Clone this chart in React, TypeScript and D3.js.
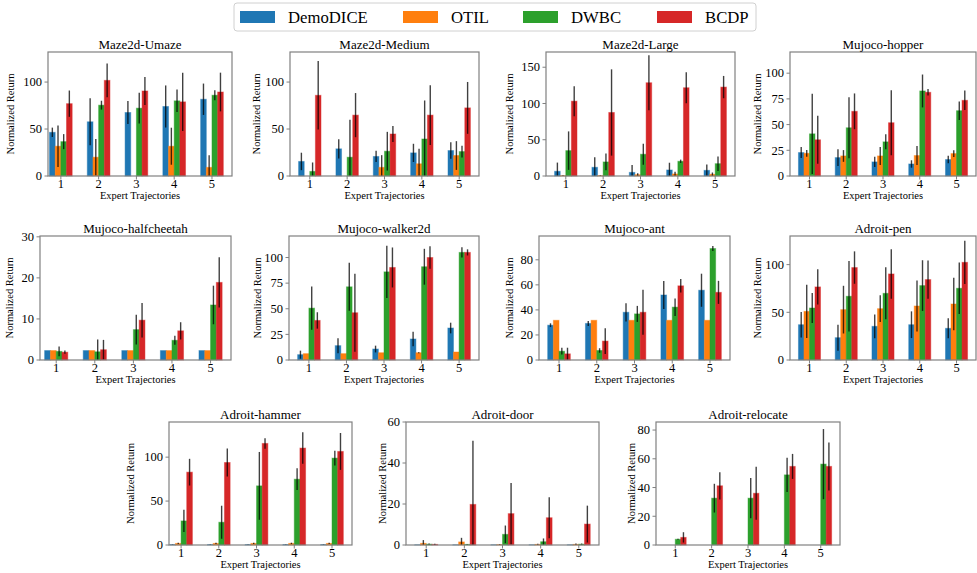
import * as d3 from "d3";

const methods = ["DemoDICE", "OTIL", "DWBC", "BCDP"];
const colors = ["#1f77b4", "#ff7f0e", "#2ca02c", "#d62728"];
const trajectories = [1, 2, 3, 4, 5];

// rows: DemoDICE, OTIL, DWBC, BCDP ; columns: 1..5 expert trajectories
const umazeMean = [[46.5, 57.7, 67.6, 74, 81.7], [31.7, 20, 0, 31.7, 9.2], [36.6, 75.4, 72.2, 80, 86], [77, 101.8, 90.5, 78.9, 89.4]];
const umazeStd = [[5, 25, 12.3, 22.4, 16.7], [22, 19.5, 0, 19.7, 13], [8, 4.7, 16.4, 12, 5.3], [14, 18, 14.8, 31, 20.6]];

const mediumMean = [[15.5, 28.9, 20.8, 24.6, 27.1], [0, 0, 9.2, 13, 21.8], [4.9, 20, 26.4, 39.4, 26], [85.9, 64.8, 44.7, 64.8, 72.5]];
const mediumStd = [[9.3, 10.2, 6, 9.7, 8.8], [0, 0, 13, 16, 15.3], [9.5, 40, 20.6, 41, 6.2], [36.5, 23.5, 8.5, 31.7, 27.6]];

const largeMean = [[6.5, 12, 5, 8.3, 7.8], [0.5, 0.5, 1.8, 2.8, 2.3], [35, 19.4, 30, 20.3, 17], [103.2, 87.6, 128.6, 121.7, 122.6]];
const largeStd = [[12, 14, 10, 10, 8], [0.5, 0.5, 2, 3, 2.5], [26.5, 11.5, 14.5, 2.3, 10], [20.7, 59.5, 37.8, 21.4, 15.4]];

const hopperMean = [[22.8, 17.9, 13.7, 11.7, 16], [22.1, 19.5, 19.5, 19.9, 21.8], [41, 46.9, 33.2, 82.7, 63.5], [35.2, 62.9, 51.8, 81.4, 73.6]];
const hopperStd = [[5.4, 8.1, 5, 3.6, 3.7], [3.3, 5.7, 8.8, 9.3, 3.3], [39, 29.6, 7.3, 16, 9], [23.3, 17.4, 31.7, 3.1, 9.5]];

const cheetahMean = [[2.3, 2.3, 2.3, 2.3, 2.3], [2.3, 2.3, 2.3, 2.3, 2.3], [2.1, 2.0, 7.4, 4.8, 13.4], [1.9, 2.5, 9.7, 7.1, 18.9]];
const cheetahStd = [[0, 0, 0, 0, 0], [0, 0, 0, 0, 0], [1.2, 3, 3.6, 1.1, 4.7], [0.4, 2.4, 4.2, 2.1, 6.1]];

const walkerMean = [[5.2, 14, 10.7, 20.5, 31.2], [6.2, 6.2, 7.1, 7.1, 7.8], [50.6, 71.4, 86, 91, 105], [38.6, 46.1, 90.3, 100, 105]];
const walkerStd = [[3.9, 7.3, 3.3, 7, 5.2], [0, 0, 0, 0.5, 0], [21, 23.4, 25.6, 17.5, 5], [8, 38, 19.5, 11, 3]];

const antMean = [[27.8, 29.2, 38.1, 51.9, 55.7], [31.7, 31.7, 31.7, 31.7, 31.7], [7, 7.6, 36.8, 42.2, 89], [4.9, 15.1, 38.1, 59.2, 54]];
const antStd = [[1.5, 2, 7.3, 11.2, 13.2], [0, 0, 0, 0, 0], [2.7, 1.8, 6.4, 7, 2], [4.9, 10.3, 18, 5.4, 9.2]];

const penMean = [[37, 23.4, 35.3, 37, 33.2], [51, 52.8, 53.8, 56.6, 58.7], [54.5, 66.8, 69.9, 78, 75.2], [76.6, 96.9, 90.2, 84.3, 102.4]];
const penStd = [[13.3, 13.6, 12.4, 14, 10.5], [28, 25, 14, 26.8, 27.6], [15.7, 37, 27.3, 26.6, 27], [18.5, 17, 26, 20, 22.7]];

const hammerMean = [[0.5, 0.5, 0.5, 0.5, 0.5], [1.8, 1.8, 1.8, 1.8, 1.8], [27.4, 25.9, 67.3, 74.9, 98.9], [82.9, 93.9, 115.6, 110.3, 106.5]];
const hammerStd = [[0.3, 0.3, 0.3, 0.3, 0.3], [0.8, 0.8, 0.8, 0.8, 0.8], [12.7, 18.8, 38.6, 12.4, 8.4], [15.2, 16, 6, 17.9, 21]];

const doorMean = [[0.1, 0.1, 0.1, 0.1, 0.1], [0.8, 1.5, 0.2, 0.3, 0.3], [0.4, 0.3, 5.2, 1.6, 0.4], [0.3, 19.8, 15.3, 13.3, 10.2]];
const doorStd = [[0, 0, 0, 0, 0], [1.6, 2, 0.2, 0.3, 0.4], [0.3, 0.2, 4.3, 1.6, 0.3], [0.3, 31, 15, 10, 9]];

const relocateMean = [[0, 0, 0, 0, 0], [0, 0, 0, 0, 0], [4, 32.6, 32.6, 48.8, 56.3], [5.3, 41.2, 36, 54.7, 54.7]];
const relocateStd = [[0, 0, 0, 0, 0], [0, 0, 0, 0, 0], [0.4, 10, 14, 12, 24.4], [3.6, 9.5, 18.4, 8.7, 16.7]];

const titles = ["Maze2d-Umaze", "Maze2d-Medium", "Maze2d-Large", "Mujoco-hopper", "Mujoco-halfcheetah", "Mujoco-walker2d", "Mujoco-ant", "Adroit-pen", "Adroit-hammer", "Adroit-door", "Adroit-relocate"];
const means = [umazeMean, mediumMean, largeMean, hopperMean, cheetahMean, walkerMean, antMean, penMean, hammerMean, doorMean, relocateMean];
const stds = [umazeStd, mediumStd, largeStd, hopperStd, cheetahStd, walkerStd, antStd, penStd, hammerStd, doorStd, relocateStd];
const yMax = [132, 132, 171, 120.6, 30.2, 121, 99, 130, 140, 60, 85.6];
const yStep = [50, 50, 50, 25, 10, 25, 20, 50, 50, 20, 20];

// layout of each axes frame (pixels) and its x limits
const rows = [[52, 176], [236, 360], [422, 545]];
const frames = [
  { row: 0, left: 48, right: 232, x0: 0.66, lab: 34 },
  { row: 0, left: 290, right: 479, x0: 0.47, lab: 30 },
  { row: 0, left: 546, right: 735, x0: 0.47, lab: 33 },
  { row: 0, left: 790, right: 976, x0: 0.47, lab: 29 },
  { row: 1, left: 40, right: 231, x0: 0.58, lab: 27 },
  { row: 1, left: 289, right: 479, x0: 0.47, lab: 28 },
  { row: 1, left: 539, right: 730, x0: 0.47, lab: 26 },
  { row: 1, left: 790, right: 976, x0: 0.47, lab: 29 },
  { row: 2, left: 169, right: 352, x0: 0.68, lab: 35 },
  { row: 2, left: 406, right: 599, x0: 0.47, lab: 20 },
  { row: 2, left: 656, right: 840, x0: 0.47, lab: 21 },
];
const legendX = [240, 403, 523, 657];

const FONT = "Liberation Serif, Times New Roman, DejaVu Serif, serif";
const BW = 0.15;

function Txt(props: any) {
  return <text fontFamily={FONT} fill="#000" {...props} />;
}

function Panel({ i }: { i: number }) {
  const f = frames[i];
  const [top, bottom] = rows[f.row];
  const x = d3.scaleLinear().domain([f.x0, 5.53]).range([f.left, f.right]);
  const y = d3.scaleLinear().domain([0, yMax[i]]).range([bottom, top]);
  const bw = x(BW) - x(0);
  const yTicks = d3.range(0, yMax[i] + 1e-6, yStep[i]);
  const clamp = (v: number) => Math.max(0, Math.min(yMax[i], v));
  const cx = (f.left + f.right) / 2;

  return (
    <g>
      {means[i].map((series, m) =>
        series.map((v, k) => {
          const xc = x(trajectories[k] + (m - 1.5) * BW);
          return (
            <rect key={`b${m}-${k}`} x={xc - bw / 2} y={y(v)} width={bw} height={Math.max(0, y(0) - y(v))}
              fill={colors[m]} stroke={colors[m]} strokeOpacity={0.45} strokeWidth={1} />
          );
        })
      )}
      {means[i].map((series, m) =>
        series.map((v, k) => {
          const s = stds[i][m][k];
          if (!s) return null;
          const xc = x(trajectories[k] + (m - 1.5) * BW);
          return (
            <line key={`e${m}-${k}`} x1={xc} x2={xc} y1={y(clamp(v - s))} y2={y(clamp(v + s))}
              stroke="#000" strokeOpacity={0.75} strokeWidth={1.4} />
          );
        })
      )}
      <rect x={f.left} y={top} width={f.right - f.left} height={bottom - top} fill="none" stroke="#808080" strokeWidth={1.2} />
      {yTicks.map((t) => (
        <g key={`y${t}`}>
          <line x1={f.left - 3.5} x2={f.left} y1={y(t)} y2={y(t)} stroke="#808080" />
          <Txt x={f.left - 6} y={y(t)} dy="0.34em" textAnchor="end" fontSize={12.5}>{t}</Txt>
        </g>
      ))}
      {trajectories.map((t) => (
        <g key={`x${t}`}>
          <line x1={x(t)} x2={x(t)} y1={bottom} y2={bottom + 3.5} stroke="#808080" />
          <Txt x={x(t)} y={bottom + 12} textAnchor="middle" fontSize={12.5}>{t}</Txt>
        </g>
      ))}
      <Txt x={cx} y={top - 3} textAnchor="middle" fontSize={13}>{titles[i]}</Txt>
      <Txt x={cx} y={bottom + 23} textAnchor="middle" fontSize={10.5}>Expert Trajectories</Txt>
      <Txt transform={`translate(${f.left - f.lab},${(top + bottom) / 2}) rotate(-90)`} textAnchor="middle" fontSize={10.5}>Normalized Return</Txt>
    </g>
  );
}

export default function App() {
  return (
    <svg width={977} height={573} style={{ position: "absolute", left: 0, top: 0, background: "#fff" }}>
      <rect x={234} y={3} width={522} height={28} rx={3} fill="#fff" stroke="#d0d0d0" />
      {methods.map((m, j) => (
        <g key={m}>
          <rect x={legendX[j]} y={11} width={35} height={12} fill={colors[j]} />
          <Txt x={legendX[j] + 48} y={23.3} fontSize={16.7}>{m}</Txt>
        </g>
      ))}
      {titles.map((_, i) => <Panel key={i} i={i} />)}
    </svg>
  );
}
